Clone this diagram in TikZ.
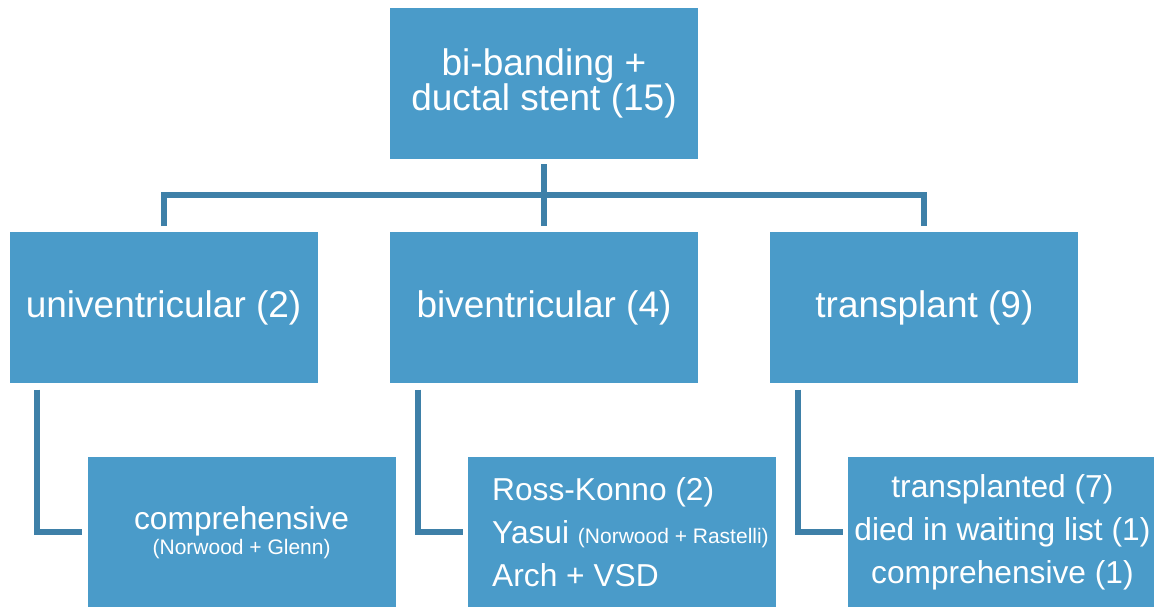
\documentclass[tikz,border=0pt]{standalone}
\usepackage{fontspec}
\setmainfont{Liberation Sans}
\usepackage{xcolor}
\usepackage{tikz}
\usetikzlibrary{positioning}
\definecolor{boxblue}{RGB}{74,155,201}
\definecolor{lineblue}{RGB}{62,128,168}

\begin{document}
\begin{tikzpicture}[x=1pt,y=-1pt]
            \tikzstyle{block} = [rectangle, fill=boxblue, text=white, minimum width=308pt, minimum height=151pt, inner sep=0pt, align=center, font=\fontsize{37}{35}\selectfont]
            \tikzstyle{subblock} = [block, font=\fontsize{31.7}{43}\selectfont]
            \tikzstyle{link} = [draw=lineblue, line width=6pt]

            \useasboundingbox (0,0) rectangle (1154,606);
            \node [block] (root) at (544,83.5) {bi-banding +\\ductal stent (15)};
            \node [block, below = 73pt of root] (bivent) {biventricular (4)};
            \node [block, left = 72pt of bivent] (univent) {univentricular (2)};
            \node [block, right = 72pt of bivent] (transpl) {transplant (9)};
            \node [subblock, below = 73pt of univent, xshift=78pt] (comp) {comprehensive\\[-18pt]{\fontsize{21}{25}\selectfont (Norwood + Glenn)}};
            \node [subblock, below = 73pt of bivent, xshift=78pt, align=left] (repair) {\hspace*{17pt}Ross-Konno (2)\\\hspace*{17pt}Yasui {\fontsize{21}{25}\selectfont (Norwood + Rastelli)}\\\hspace*{17pt}Arch + VSD};
            \node [subblock, below = 73pt of transpl, xshift=78pt] (outcome) {transplanted (7)\\died in waiting list (1)\\comprehensive (1)};
            \draw [link] ([yshift=-5pt]root.south) -- ([yshift=6pt]bivent.north);
            \draw [link] ([yshift=6pt]univent.north) -- ++(0,-31) -| ([yshift=6pt]transpl.north);
            \draw [link] ([shift={(28pt,-6pt)}]univent.south west) |- ([xshift=-5pt]comp.west);
            \draw [link] ([shift={(28pt,-6pt)}]bivent.south west) |- ([xshift=-5pt]repair.west);
            \draw [link] ([shift={(28pt,-6pt)}]transpl.south west) |- ([xshift=-5pt]outcome.west);
            \end{tikzpicture}
\end{document}
